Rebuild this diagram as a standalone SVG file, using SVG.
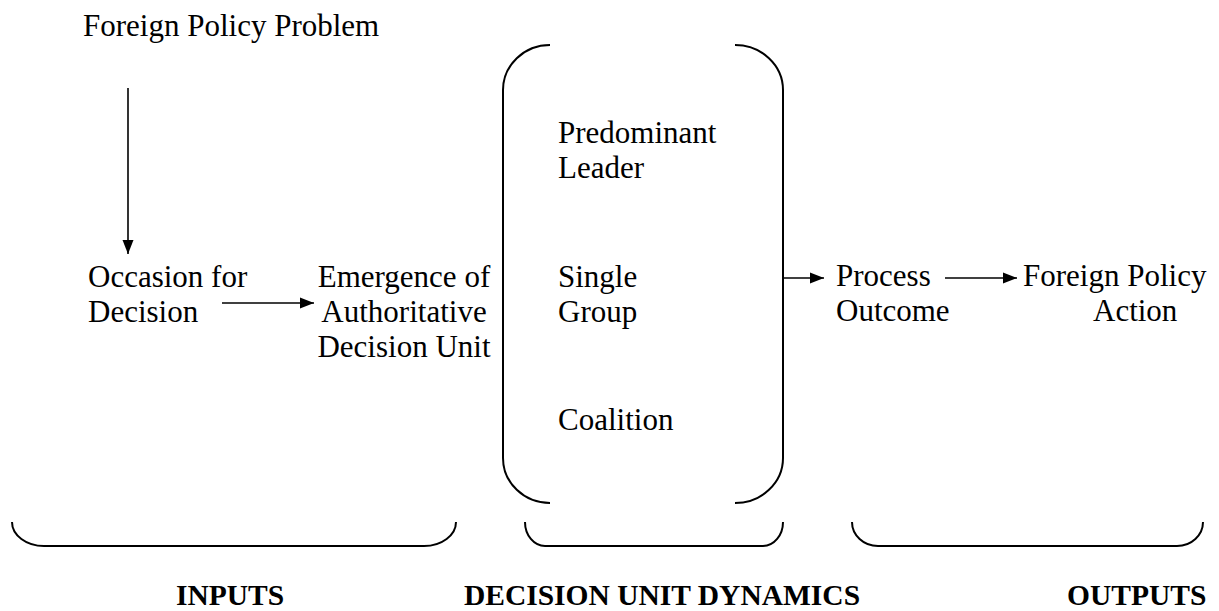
<svg xmlns="http://www.w3.org/2000/svg" width="1219" height="611" viewBox="0 0 1219 611">
<style>
  .t { font-family: "Liberation Serif", "Times New Roman", serif; font-size: 31px; fill: #000; }
  .b { font-family: "Liberation Serif", "Times New Roman", serif; font-size: 29.5px; font-weight: bold; fill: #000; }
  .br { fill: none; stroke: #000; stroke-width: 2; }
  .ar { fill: none; stroke: #000; stroke-width: 1.6; marker-end: url(#ah); }
</style>
<defs>
  <marker id="ah" markerUnits="userSpaceOnUse" markerWidth="14" markerHeight="12" viewBox="0 0 14 12" refX="14" refY="6" orient="auto">
    <path d="M0,0.5 L14,6 L0,11.5 Z" fill="#000"/>
  </marker>
</defs>
<rect width="1219" height="611" fill="#fff"/>
<g id="problem"><text class="t" x="83" y="36">Foreign Policy Problem</text></g>
<g id="occasion"><text class="t" x="88" y="287">Occasion for</text><text class="t" x="88" y="322">Decision</text></g>
<g id="emergence" text-anchor="middle"><text class="t" x="404" y="287">Emergence of</text><text class="t" x="404" y="322">Authoritative</text><text class="t" x="404" y="357">Decision Unit</text></g>
<g id="unit">
  <path class="br" d="M550,45 A47,45 0 0 0 503,90 L503,458 A47,45 0 0 0 550,503"/>
  <path class="br" d="M735,45 A48,45 0 0 1 783,90 L783,458 A48,45 0 0 1 735,503"/>
  <text class="t" x="558" y="143">Predominant</text><text class="t" x="558" y="178">Leader</text>
  <text class="t" x="558" y="287">Single</text><text class="t" x="558" y="322">Group</text>
  <text class="t" x="558" y="430">Coalition</text>
</g>
<g id="process"><text class="t" x="836" y="286">Process</text><text class="t" x="836" y="321">Outcome</text></g>
<g id="action"><text class="t" x="1023" y="286">Foreign Policy</text><text class="t" x="1093" y="321">Action</text></g>
<g id="inputs"><path class="br" d="M12,522 A32,24 0 0 0 44,546 L424,546 A32,24 0 0 0 456,522"/><text class="b" x="176" y="605">INPUTS</text></g>
<g id="dynamics"><path class="br" d="M525,522 A20,24 0 0 0 545,546 L763,546 A20,24 0 0 0 783,522"/><text class="b" x="662" y="605" text-anchor="middle">DECISION UNIT DYNAMICS</text></g>
<g id="outputs"><path class="br" d="M852,522 A26,24 0 0 0 878,546 L1177,546 A26,24 0 0 0 1203,522"/><text class="b" x="1067" y="605">OUTPUTS</text></g>
<g id="connectors">
  <line class="ar" x1="128" y1="88" x2="128" y2="254"/>
  <line class="ar" x1="222" y1="303" x2="314" y2="303"/>
  <line class="ar" x1="783" y1="278" x2="824" y2="278"/>
  <line class="ar" x1="945" y1="278" x2="1017" y2="278"/>
</g>
</svg>
